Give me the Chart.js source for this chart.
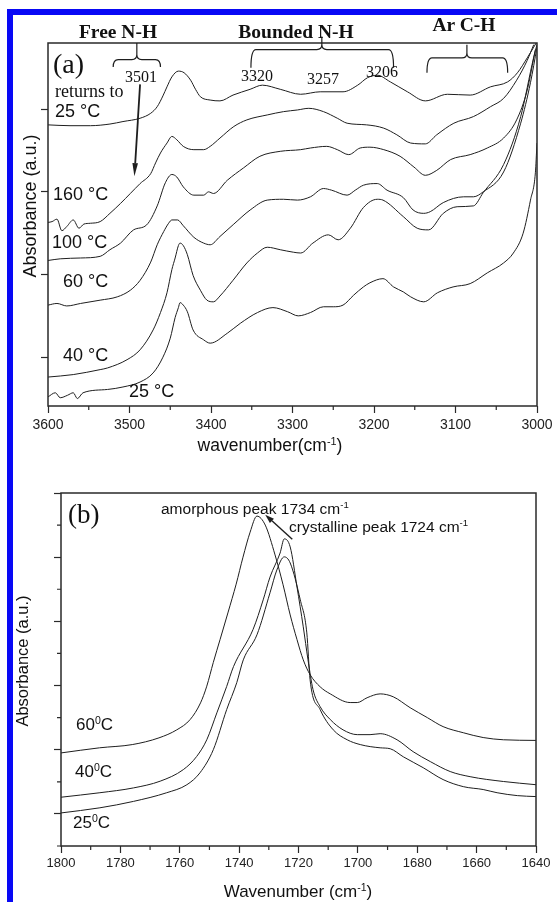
<!DOCTYPE html>
<html>
<head>
<meta charset="utf-8">
<title>FTIR spectra</title>
<script src="https://cdn.jsdelivr.net/npm/chart.js@4/dist/chart.umd.min.js"></script>
<style>
  html, body { margin: 0; padding: 0; background: #fff; }
  body { width: 557px; height: 902px; position: relative; overflow: hidden;
         font-family: 'Liberation Sans', Arial, sans-serif; color: #111; }
  canvas { position: absolute; left: 0; }
  #chart-a { top: 0; }
  #chart-b { top: 460px; }
  .frame { position: absolute; left: 7px; top: 9px; width: 560px; height: 910px;
           border: 6px solid #0808f5; pointer-events: none; }
  .t { position: absolute; white-space: nowrap; line-height: 1; transform: translateY(-50%); }
  .c { transform: translate(-50%, -50%); }
  .rot { transform: translate(-50%, -50%) rotate(-90deg); }
  .serif { font-family: 'Liberation Serif', 'Times New Roman', serif; }
  .bold { font-weight: bold; }
  sup { font-size: 0.62em; vertical-align: 0; position: relative; top: -0.6em; }
</style>
</head>
<body>
<canvas id="chart-a" width="557" height="460"></canvas>
<canvas id="chart-b" width="557" height="442"></canvas>

<!-- panel (a) text -->
<div class="t c serif bold" style="left:118px;top:32px;font-size:19.5px">Free N-H</div>
<div class="t c serif bold" style="left:296px;top:32px;font-size:19.5px">Bounded N-H</div>
<div class="t c serif bold" style="left:464px;top:25px;font-size:19.5px">Ar C-H</div>
<div class="t c serif" style="left:141px;top:77px;font-size:16px">3501</div>
<div class="t c serif" style="left:257px;top:76px;font-size:16px">3320</div>
<div class="t c serif" style="left:323px;top:79px;font-size:16px">3257</div>
<div class="t c serif" style="left:382px;top:72px;font-size:16px">3206</div>
<div class="t serif" style="left:53px;top:64px;font-size:28px">(a)</div>
<div class="t serif" style="left:55px;top:91px;font-size:18px">returns to</div>
<div class="t" style="left:55px;top:111px;font-size:18px">25 °C</div>
<div class="t" style="left:53px;top:194px;font-size:18px">160 °C</div>
<div class="t" style="left:52px;top:242px;font-size:18px">100 °C</div>
<div class="t" style="left:63px;top:281px;font-size:18px">60 °C</div>
<div class="t" style="left:63px;top:355px;font-size:18px">40 °C</div>
<div class="t" style="left:129px;top:391px;font-size:18px">25 °C</div>
<div class="t c" style="left:270px;top:446px;font-size:17.5px">wavenumber(cm<sup>-1</sup>)</div>
<div class="t rot" style="left:30px;top:206px;font-size:18px">Absorbance (a.u.)</div>

<!-- panel (b) text -->
<div class="t serif" style="left:68px;top:514px;font-size:27px">(b)</div>
<div class="t" style="left:161px;top:509px;font-size:15.5px">amorphous peak 1734 cm<sup>-1</sup></div>
<div class="t" style="left:289px;top:527px;font-size:15.5px">crystalline peak 1724 cm<sup>-1</sup></div>
<div class="t" style="left:76px;top:724px;font-size:17px">60<sup>0</sup>C</div>
<div class="t" style="left:75px;top:771px;font-size:17px">40<sup>0</sup>C</div>
<div class="t" style="left:73px;top:822px;font-size:17px">25<sup>0</sup>C</div>
<div class="t c" style="left:298px;top:891px;font-size:17px">Wavenumber (cm<sup>-1</sup>)</div>
<div class="t rot" style="left:22px;top:661px;font-size:16.5px">Absorbance (a.u.)</div>

<div class="frame"></div>

<script>
'use strict';

const $ = id => document.getElementById(id);

// ── Panel (a): N-H / C-H region, 3600–3000 cm-1 ──────────────────────────────

const ticksAX      = [3000, 3100, 3200, 3300, 3400, 3500, 3600];
const minorTicksAX = [3050, 3150, 3250, 3350, 3450, 3550];
const ticksAY      = [0, 1, 2, 3];

// returns to 25 °C
const rtX = [3600, 3573, 3548, 3524, 3508, 3487, 3474, 3466, 3459, 3454, 3448, 3440, 3433, 3425, 3419, 3413, 3401, 3389, 3373, 3352,
             3337, 3315, 3290, 3266, 3238, 3220, 3208, 3196, 3180, 3159, 3137, 3110, 3082, 3057, 3036, 3024, 3012, 3004, 3001];
const rtY = [2.81, 2.80, 2.80, 2.82, 2.85, 2.89, 2.95, 3.03, 3.16, 3.27, 3.39, 3.46, 3.44, 3.35, 3.24, 3.15, 3.11, 3.10, 3.17, 3.24,
             3.29, 3.24, 3.18, 3.21, 3.21, 3.29, 3.38, 3.41, 3.33, 3.21, 3.10, 3.18, 3.17, 3.27, 3.33, 3.44, 3.62, 3.75, 3.80];

// 160 °C
const c160X = [3600, 3595, 3589, 3583, 3577, 3569, 3562, 3556, 3548, 3536, 3524, 3511, 3499, 3487, 3474, 3468, 3462, 3454, 3448, 3442,
               3434, 3421, 3409, 3401, 3389, 3372, 3356, 3331, 3311, 3294, 3280, 3262, 3245, 3233, 3209, 3188, 3172, 3155, 3137, 3123,
               3102, 3078, 3057, 3041, 3025, 3012, 3004];
const c160Y = [1.63, 1.64, 1.67, 1.53, 1.58, 1.66, 1.56, 1.61, 1.62, 1.64, 1.74, 1.86, 1.98, 2.10, 2.22, 2.35, 2.47, 2.59, 2.67, 2.63,
               2.55, 2.51, 2.51, 2.55, 2.65, 2.79, 2.87, 2.93, 2.97, 2.99, 3.01, 2.97, 2.89, 2.83, 2.81, 2.77, 2.69, 2.59, 2.58, 2.69,
               2.83, 2.91, 3.03, 3.13, 3.35, 3.59, 3.78];

// 100 °C
const c100X = [3600, 3585, 3560, 3536, 3524, 3511, 3495, 3479, 3466, 3456, 3448, 3442, 3434, 3421, 3409, 3403, 3397, 3380, 3360, 3340,
               3315, 3290, 3278, 3258, 3245, 3231, 3217, 3205, 3188, 3168, 3151, 3137, 3123, 3106, 3082, 3061, 3041, 3025, 3012, 3002];
const c100Y = [1.17, 1.19, 1.20, 1.22, 1.30, 1.38, 1.54, 1.60, 1.83, 2.11, 2.21, 2.18, 2.06, 1.96, 1.96, 2.00, 1.98, 2.14, 2.29, 2.43,
               2.49, 2.51, 2.53, 2.55, 2.51, 2.45, 2.53, 2.54, 2.51, 2.43, 2.30, 2.20, 2.26, 2.39, 2.45, 2.53, 2.65, 2.87, 3.23, 3.72];

// 60 °C
const c60X = [3600, 3589, 3577, 3560, 3536, 3515, 3499, 3487, 3474, 3466, 3458, 3452, 3448, 3441, 3434, 3421, 3409, 3401, 3389, 3372,
              3352, 3331, 3311, 3294, 3278, 3262, 3252, 3233, 3223, 3213, 3196, 3184, 3164, 3152, 3139, 3131, 3115, 3090, 3078, 3066,
              3041, 3020, 3008, 3000];
const c60Y = [0.63, 0.65, 0.62, 0.65, 0.69, 0.73, 0.81, 0.93, 1.15, 1.36, 1.52, 1.62, 1.66, 1.66, 1.59, 1.45, 1.38, 1.36, 1.46, 1.61,
              1.78, 1.90, 1.91, 1.90, 1.94, 2.04, 2.02, 1.96, 2.02, 2.08, 2.10, 2.02, 1.93, 1.78, 1.74, 1.76, 1.87, 1.94, 1.94, 2.00,
              2.24, 2.83, 3.32, 3.75];

// 40 °C
const c40X = [3600, 3569, 3536, 3527, 3503, 3487, 3471, 3462, 3454, 3448, 3444, 3440, 3438, 3434, 3429, 3422, 3413, 3405, 3397, 3389,
              3373, 3356, 3343, 3331, 3315, 3299, 3290, 3275, 3256, 3244, 3229, 3213, 3196, 3189, 3164, 3147, 3133, 3115, 3098, 3078,
              3066, 3041, 3020, 3004, 3000];
const c40Y = [-0.24, -0.21, -0.15, -0.13, -0.03, 0.09, 0.33, 0.54, 0.78, 1.06, 1.20, 1.35, 1.38, 1.35, 1.24, 0.99, 0.81, 0.69, 0.67, 0.74,
              0.93, 1.14, 1.26, 1.33, 1.30, 1.27, 1.26, 1.38, 1.48, 1.42, 1.56, 1.81, 1.91, 1.90, 1.70, 1.56, 1.54, 1.74, 1.82, 1.83,
              1.99, 2.33, 2.91, 3.63, 3.78];

// 25 °C
const c25X = [3600, 3591, 3585, 3576, 3569, 3564, 3557, 3527, 3508, 3487, 3471, 3459, 3450, 3444, 3440, 3438, 3434, 3429, 3422, 3409,
              3401, 3380, 3364, 3343, 3324, 3306, 3293, 3278, 3262, 3250, 3238, 3225, 3213, 3205, 3189, 3176, 3164, 3155, 3139, 3122,
              3103, 3082, 3061, 3041, 3029, 3017, 3008, 3002, 3000];
const c25Y = [-0.48, -0.43, -0.49, -0.46, -0.43, -0.50, -0.43, -0.39, -0.36, -0.30, -0.19, 0.00, 0.23, 0.48, 0.60, 0.66, 0.63, 0.55, 0.33, 0.21,
              0.17, 0.29, 0.41, 0.54, 0.60, 0.55, 0.50, 0.54, 0.61, 0.61, 0.63, 0.75, 0.85, 0.90, 0.95, 0.85, 0.79, 0.73, 0.67, 0.78,
              0.85, 0.89, 1.02, 1.14, 1.26, 1.50, 1.90, 2.23, 2.59];

// ── Panel (b): C=O region, 1800–1640 cm-1 ────────────────────────────────────

const ticksBX      = [1640, 1660, 1680, 1700, 1720, 1740, 1760, 1780, 1800];
const minorTicksBX = [1650, 1670, 1690, 1710, 1730, 1750, 1770, 1790];
const ticksBY      = [1, 3, 5, 7, 9, 11];
const minorTicksBY = [0, 2, 4, 6, 8, 10];

const b60X = [1800, 1787, 1776, 1767, 1761, 1756.5, 1753, 1750.9, 1748.7, 1746.4, 1743.7, 1741.0, 1738.7, 1736.3, 1734, 1731.2, 1727.9,
              1725.2, 1722.8, 1720.5, 1718.4, 1716.1, 1712.7, 1709.3, 1702.6, 1700.2, 1696.9, 1692.5, 1688.1, 1682.4, 1676.6, 1671.3,
              1664.5, 1657.8, 1651, 1640];
const b60Y = [2.90, 3.06, 3.16, 3.37, 3.62, 3.94, 4.46, 4.98, 5.72, 6.44, 7.29, 8.16, 9.00, 9.78, 10.28, 10.0, 9.07,
              8.14, 7.20, 6.43, 5.80, 5.34, 4.96, 4.74, 4.47, 4.47, 4.62, 4.74, 4.65, 4.31, 4.00, 3.72,
              3.53, 3.38, 3.31, 3.29];

const b40X = [1800, 1786.9, 1775.6, 1766.6, 1758.8, 1754.3, 1750.9, 1747.5, 1744.2, 1741.9, 1735.3, 1731.9, 1729.6, 1726.2, 1724.8,
              1722.8, 1720.5, 1718.4, 1716.8, 1715.1, 1712.7, 1709.3, 1705, 1700.2, 1695.9, 1692.5, 1686.8, 1681.4, 1675.6, 1668.9,
              1662.2, 1651, 1640];
const b40Y = [1.52, 1.66, 1.81, 2.02, 2.38, 2.79, 3.31, 4.15, 4.97, 5.59, 6.75, 7.67, 8.38, 9.13, 9.57,
              9.32, 8.07, 6.83, 5.80, 4.87, 4.34, 3.94, 3.62, 3.47, 3.47, 3.50, 3.31, 2.94, 2.63, 2.32,
              2.16, 2.01, 1.91];

const b25X = [1800, 1786.9, 1775.6, 1764.4, 1757.6, 1753.2, 1748.7, 1744.2, 1740.8, 1738.6, 1734, 1729.6, 1727.3, 1724.8, 1722.8,
              1719.4, 1717.2, 1716.1, 1712.7, 1708.3, 1703.6, 1699.2, 1692.5, 1689.1, 1684.7, 1678, 1671.3, 1664.5, 1657.8, 1653.1,
              1646.3, 1640];
const b25Y = [1.03, 1.19, 1.39, 1.66, 1.91, 2.28, 3.00, 4.25, 5.09, 5.80, 6.58, 7.89, 8.60, 9.01, 8.82,
              7.67, 6.64, 5.18, 4.25, 3.62, 3.31, 3.16, 3.06, 3.03, 2.78, 2.44, 2.07, 1.85, 1.76, 1.66,
              1.57, 1.54];

// ── Helpers ───────────────────────────────────────────────────────────────────

const SANS = "'Liberation Sans', Arial, sans-serif";
const INK  = '#1e1e1e';

function series(xs, ys) {
  return {
    data: xs.map((x, i) => ({ x, y: ys[i] })),
    borderColor: INK,
    borderWidth: 1,
    pointRadius: 0,
    fill: false,
    cubicInterpolationMode: 'monotone',
  };
}

function setTicks(values) {
  return s => { s.ticks = values.map(value => ({ value })); };
}

// box round the plot area
const framePlugin = {
  id: 'frame',
  afterDraw(chart) {
    const { ctx, chartArea: a } = chart;
    ctx.save();
    ctx.strokeStyle = '#2a2a2a';
    ctx.lineWidth = 1.5;
    ctx.strokeRect(a.left, a.top, a.right - a.left, a.bottom - a.top);
    ctx.restore();
  },
};

// short outward ticks between the labelled ones
const minorTicksPlugin = {
  id: 'minorTicks',
  afterDraw(chart, args, opts) {
    const { ctx, chartArea: a, scales } = chart;
    ctx.save();
    ctx.strokeStyle = '#2a2a2a';
    ctx.lineWidth = 1.2;
    ctx.beginPath();
    (opts.x || []).forEach(v => {
      const px = scales.x.getPixelForValue(v);
      ctx.moveTo(px, a.bottom);
      ctx.lineTo(px, a.bottom + opts.len);
    });
    (opts.y || []).forEach(v => {
      const py = scales.y.getPixelForValue(v);
      ctx.moveTo(a.left, py);
      ctx.lineTo(a.left - opts.len, py);
    });
    ctx.stroke();
    ctx.restore();
  },
};

// braces and arrows, placed in data coordinates
const marksPlugin = {
  id: 'marks',
  afterDraw(chart, args, opts) {
    const { ctx, scales: { x, y } } = chart;
    ctx.save();
    ctx.strokeStyle = INK;
    ctx.fillStyle = INK;

    (opts.braces || []).forEach(b => {
      const x1 = x.getPixelForValue(b.from), x2 = x.getPixelForValue(b.to), xc = x.getPixelForValue(b.mid);
      const yt = y.getPixelForValue(b.tip), yb = y.getPixelForValue(b.bar), yc = y.getPixelForValue(b.cusp);
      const r = Math.min(5, (yt - yb));
      ctx.lineWidth = 1.2;
      ctx.beginPath();
      ctx.moveTo(x1, yt);
      ctx.quadraticCurveTo(x1, yb, x1 + r, yb);
      ctx.lineTo(xc - 5, yb);
      ctx.quadraticCurveTo(xc, yb, xc, yb - 5);
      ctx.lineTo(xc, yc);
      ctx.moveTo(x2, yt);
      ctx.quadraticCurveTo(x2, yb, x2 - r, yb);
      ctx.lineTo(xc + 5, yb);
      ctx.quadraticCurveTo(xc, yb, xc, yb - 5);
      ctx.stroke();
    });

    (opts.arrows || []).forEach(ar => {
      const x1 = x.getPixelForValue(ar.x1), y1 = y.getPixelForValue(ar.y1);
      const x2 = x.getPixelForValue(ar.x2), y2 = y.getPixelForValue(ar.y2);
      const ang = Math.atan2(y2 - y1, x2 - x1);
      const bx = x2 - ar.head * Math.cos(ang), by = y2 - ar.head * Math.sin(ang);
      ctx.lineWidth = ar.width;
      ctx.beginPath();
      ctx.moveTo(x1, y1);
      ctx.lineTo(bx, by);
      ctx.stroke();
      ctx.beginPath();
      ctx.moveTo(x2, y2);
      ctx.lineTo(bx + ar.half * Math.sin(ang), by - ar.half * Math.cos(ang));
      ctx.lineTo(bx - ar.half * Math.sin(ang), by + ar.half * Math.cos(ang));
      ctx.closePath();
      ctx.fill();
    });
    ctx.restore();
  },
};

function axisX(min, max, ticks, height, fontSize, pad) {
  return {
    type: 'linear', reverse: true, min, max,
    afterBuildTicks: setTicks(ticks),
    afterFit: s => { s.height = height; },
    border: { display: false },
    grid: { drawOnChartArea: false, tickLength: 7, tickColor: '#2a2a2a', tickWidth: 1.2 },
    ticks: { font: { family: SANS, size: fontSize }, color: '#222', padding: pad,
             maxRotation: 0, autoSkip: false, callback: v => String(v) },
  };
}

function axisY(min, max, ticks, width) {
  return {
    min, max,
    afterBuildTicks: setTicks(ticks),
    afterFit: s => { s.width = width; },
    border: { display: false },
    grid: { drawOnChartArea: false, tickLength: 7, tickColor: '#2a2a2a', tickWidth: 1.2 },
    ticks: { display: false },
  };
}

const common = {
  responsive: false,
  animation: false,
  events: [],
};

// ── Chart (a) ─────────────────────────────────────────────────────────────────

new Chart($('chart-a'), {
  type: 'line',
  data: {
    datasets: [
      series(rtX, rtY), series(c160X, c160Y), series(c100X, c100Y),
      series(c60X, c60Y), series(c40X, c40Y), series(c25X, c25Y),
    ],
  },
  options: {
    ...common,
    layout: { padding: { top: 43, right: 20, bottom: 0, left: 0 } },
    plugins: {
      legend: { display: false },
      tooltip: { enabled: false },
      minorTicks: { x: minorTicksAX, len: 4 },
      marks: {
        braces: [
          { from: 3520, mid: 3491, to: 3462, tip: 3.51, bar: 3.60, cusp: 3.80 },
          { from: 3351, mid: 3264, to: 3176, tip: 3.50, bar: 3.72, cusp: 3.88 },
          { from: 3135, mid: 3086, to: 3036, tip: 3.44, bar: 3.62, cusp: 3.78 },
        ],
        arrows: [
          { x1: 3487, y1: 3.30, x2: 3494, y2: 2.19, head: 13, half: 2.8, width: 1.8 },
        ],
      },
    },
    scales: {
      x: axisX(3000, 3600, ticksAX, 54, 14, 4),
      y: axisY(-0.59, 3.8, ticksAY, 48),
    },
  },
  plugins: [minorTicksPlugin, framePlugin, marksPlugin],
});

// ── Chart (b) ─────────────────────────────────────────────────────────────────

new Chart($('chart-b'), {
  type: 'line',
  data: {
    datasets: [series(b60X, b60Y), series(b40X, b40Y), series(b25X, b25Y)],
  },
  options: {
    ...common,
    layout: { padding: { top: 33, right: 21, bottom: 0, left: 0 } },
    plugins: {
      legend: { display: false },
      tooltip: { enabled: false },
      minorTicks: { x: minorTicksBX, y: minorTicksBY, len: 4 },
      marks: {
        arrows: [
          { x1: 1722.1, y1: 9.56, x2: 1731.2, y2: 10.32, head: 9, half: 3, width: 1.4 },
        ],
      },
    },
    scales: {
      x: axisX(1640, 1800, ticksBX, 56, 13, 3),
      y: axisY(0, 11, ticksBY, 61),
    },
  },
  plugins: [minorTicksPlugin, framePlugin, marksPlugin],
});
</script>
</body>
</html>
